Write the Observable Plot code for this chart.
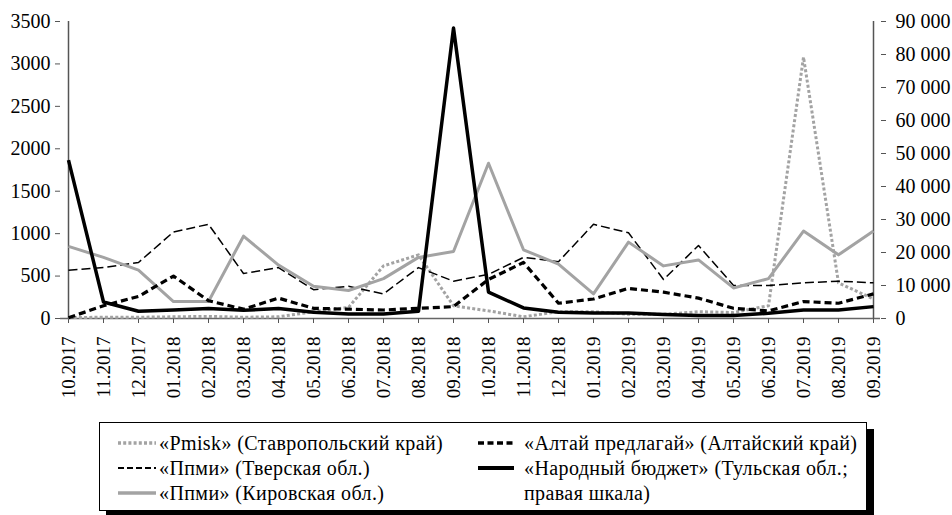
<!DOCTYPE html>
<html><head><meta charset="utf-8">
<script src="https://cdn.jsdelivr.net/npm/d3@7"></script>
<script src="https://cdn.jsdelivr.net/npm/@observablehq/plot@0.6"></script>
<style>
html,body{margin:0;padding:0;background:#fff;}
#wrap{position:relative;width:952px;height:515px;overflow:hidden;font-family:"Liberation Serif";color:#000;}
#chart{position:absolute;left:0;top:0;}
#legend{position:absolute;left:99px;top:422px;width:768px;height:89px;border:1px solid #000;box-shadow:7px 7px 0 #000;background:#fff;box-sizing:border-box;}
.sym{position:absolute;}
.txt{position:absolute;font-family:"Liberation Serif";font-size:20px;letter-spacing:0.4px;line-height:25px;white-space:nowrap;}
</style></head>
<body>
<div id="wrap"><div id="chart"></div><div id="legend"></div></div>
<script>
const months = ["10.2017","11.2017","12.2017","01.2018","02.2018","03.2018","04.2018","05.2018","06.2018","07.2018","08.2018","09.2018","10.2018","11.2018","12.2018","01.2019","02.2019","03.2019","04.2019","05.2019","06.2019","07.2019","08.2019","09.2019"];
const pmiskStavropol = [10,15,15,20,25,15,20,80,130,620,750,150,90,20,80,80,50,50,80,70,150,3080,420,230];
const ppmiTver = [570,600,660,1020,1110,530,600,340,380,290,600,440,520,720,670,1110,1010,460,860,390,390,420,440,420];
const ppmiKirov = [850,720,570,200,200,970,630,380,330,470,720,790,1830,810,640,290,900,620,690,360,470,1030,750,1030];
const altai = [10,150,260,500,210,110,240,120,110,100,120,140,460,660,180,230,355,310,240,120,90,200,180,290];
const tulaRight = [48000,5000,2200,2600,3000,2500,3000,1900,1400,1400,2200,88000,8000,3200,1900,1700,1700,1200,900,900,1600,2600,2600,3600];
const leftTicks = [0,500,1000,1500,2000,2500,3000,3500];
const rightTicks = [0,10000,20000,30000,40000,50000,60000,70000,80000,90000];
const legendLabels = ["«Pmisk» (Ставропольский край)","«Ппми» (Тверская обл.)","«Ппми» (Кировская обл.)","«Алтай предлагай» (Алтайский край)","«Народный бюджет» (Тульская обл.;","правая шкала)"];

const K = 3500/90000;
const GRAY = "#a3a3a3";
const rows = arr => months.map((m,i)=>({m, v: arr[i]}));
const fmt = v => d3.format(",")(v).replace(/,/g, "\u00a0");

const series = [
  {data: pmiskStavropol, stroke: GRAY, width: 3, dash: "3,2.2", k: 1},
  {data: ppmiTver, stroke: "#000", width: 1.5, dash: "9,4", k: 1},
  {data: ppmiKirov, stroke: GRAY, width: 3, dash: null, k: 1},
  {data: altai, stroke: "#000", width: 3.2, dash: "7,4", k: 1},
  {data: tulaRight, stroke: "#000", width: 3.5, dash: null, k: K}
];

const chart = Plot.plot({
  width: 952, height: 410,
  marginTop: 21, marginBottom: 92, marginLeft: 60, marginRight: 72,
  style: {fontFamily: "Liberation Serif", fontSize: "20px", color: "#000", background: "#fff", overflow: "visible"},
  x: {type: "point", domain: months, padding: 0, axis: null},
  y: {domain: [0, 3500], axis: null},
  marks: [
    Plot.ruleY([0], {stroke: "#666", strokeWidth: 1.5}),
    Plot.ruleX([months[0]], {y1: 0, y2: 3500, stroke: "#555", strokeWidth: 1.5}),
    Plot.ruleX([months[months.length-1]], {y1: 0, y2: 3500, stroke: "#555", strokeWidth: 1.5}),
    Plot.axisX(months, {anchor: "bottom", tickRotate: -90, tickSize: 5, tickPadding: 13, fontSize: 19, stroke: "#555", fill: "#000", label: null}),
    Plot.axisY(leftTicks, {anchor: "left", tickSize: 5, tickPadding: 5, fontSize: 20, stroke: "#555", fill: "#000", label: null, tickFormat: d => String(d)}),
    Plot.axisY(rightTicks.map(v => v*K), {anchor: "right", tickSize: 5, tickPadding: 10, fontSize: 20, stroke: "#555", fill: "#000", label: null, tickFormat: d => fmt(Math.round(d/K))}),
    ...series.map(s => Plot.line(rows(s.data), {
      x: "m", y: d => d.v * s.k, stroke: s.stroke, strokeWidth: s.width,
      strokeDasharray: s.dash || undefined, strokeLinecap: "butt", strokeLinejoin: "round"
    }))
  ]
});
document.getElementById("chart").appendChild(chart);

// legend
const leg = document.getElementById("legend");
const items = [
  {s: series[0], x: 18, w: 38, tx: 59, row: 0, label: legendLabels[0]},
  {s: series[1], x: 18, w: 38, tx: 59, row: 1, label: legendLabels[1]},
  {s: series[2], x: 18, w: 38, tx: 59, row: 2, label: legendLabels[2]},
  {s: series[3], x: 378, w: 36, tx: 424, row: 0, label: legendLabels[3]},
  {s: series[4], x: 378, w: 36, tx: 424, row: 1, label: legendLabels[4]},
  {s: null, tx: 424, row: 2, label: legendLabels[5]}
];
const rowY = [20, 45, 70];
for (const it of items) {
  if (it.s) {
    const svg = d3.create("svg").attr("class", "sym").attr("width", it.w).attr("height", 10)
      .style("left", it.x + "px").style("top", (rowY[it.row] - 5) + "px");
    svg.append("line").attr("x1", 0).attr("x2", it.w).attr("y1", 5).attr("y2", 5)
      .attr("stroke", it.s.stroke).attr("stroke-width", it.s.width + 0.5)
      .attr("stroke-dasharray", it.s.dash ? (it.s.width < 2 ? "6,3" : it.s.dash === "7,4" ? "6,3.5" : "3,2.2") : null);
    leg.appendChild(svg.node());
  }
  const t = document.createElement("div");
  t.className = "txt";
  t.textContent = it.label;
  t.style.left = it.tx + "px";
  t.style.top = (rowY[it.row] - 12.5) + "px";
  leg.appendChild(t);
}
</script>
</body></html>
